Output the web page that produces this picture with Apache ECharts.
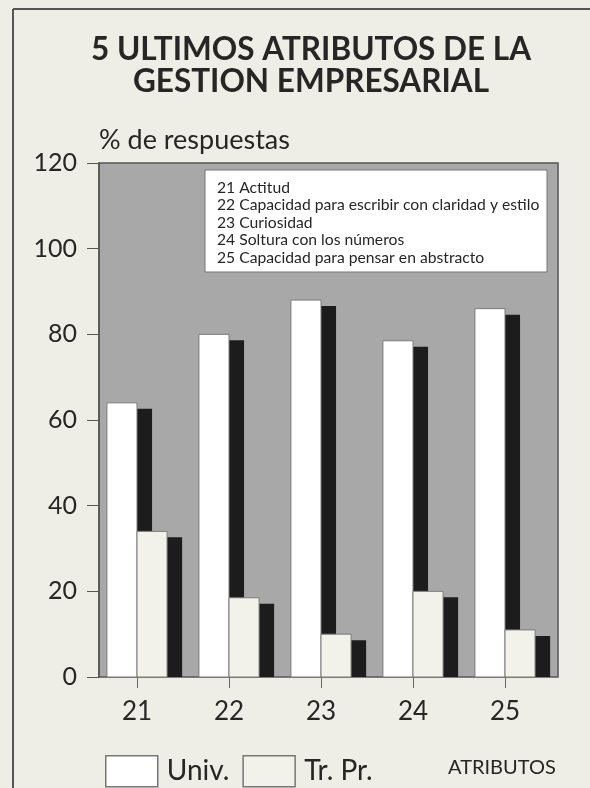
<!DOCTYPE html>
<html>
<head>
<meta charset="utf-8">
<script src="https://cdn.jsdelivr.net/npm/echarts@6/dist/echarts.min.js"></script>
<style>
html,body{margin:0;padding:0;background:#eeede6;}
#c{width:590px;height:788px;}
</style>
</head>
<body>
<div id="c"></div>
<script>
const categories = ['21', '22', '23', '24', '25'];
const univValues = [64, 80, 88, 78.5, 86];
const trprValues = [34, 18.5, 10, 20, 11];
const seriesNames = ['Univ.', 'Tr. Pr.'];
const noteLines = [
  '21 Actitud',
  '22 Capacidad para escribir con claridad y estilo',
  '23 Curiosidad',
  '24 Soltura con los números',
  '25 Capacidad para pensar en abstracto'
];
const titleLines = ['5 ULTIMOS ATRIBUTOS DE LA', 'GESTION EMPRESARIAL'];

const FONT = 'Lato, "Open Sans", sans-serif';
const TXT = '#262626';

function makeRender(side, fill) {
  return function (params, api) {
    const i = api.value(0), v = api.value(1);
    const top = api.coord([i, v]);
    const base = api.coord([i, 0]);
    const band = api.size([1, 0])[0];
    const bw = band * 0.327;
    const x0 = side === 0 ? top[0] - bw : top[0];
    return {
      type: 'group',
      children: [
        { type: 'rect', shape: { x: x0 + bw / 2, y: top[1] + 6, width: bw, height: base[1] - top[1] - 6 },
          style: { fill: '#1c1c1c' } },
        { type: 'rect', shape: { x: x0, y: top[1], width: bw, height: base[1] - top[1] },
          style: { fill: fill, stroke: '#7a7a7a', lineWidth: 1 } }
      ]
    };
  };
}

const chart = echarts.init(document.getElementById('c'));
chart.setOption({
  backgroundColor: '#eeede6',
  animation: false,
  title: {
    text: titleLines.join('\n'),
    left: 306, textAlign: 'center', top: 29,
    textStyle: { fontFamily: FONT, fontSize: 31.5, fontWeight: 'bold', color: TXT, lineHeight: 32 }
  },
  grid: [
    { left: 99, top: 163, width: 459, height: 514, show: true, backgroundColor: '#a8a8a8', borderColor: '#555', borderWidth: 1.5 },
    { left: 91, top: 163, width: 460, height: 514 }
  ],
  xAxis: [
    { gridIndex: 0, type: 'category', data: categories, show: false },
    { gridIndex: 1, type: 'category', data: categories,
      axisLine: { show: false },
      axisTick: { show: true, alignWithLabel: true, length: 11, lineStyle: { color: '#666', width: 1 } },
      axisLabel: { fontFamily: FONT, fontSize: 26, color: TXT, margin: 22 } }
  ],
  yAxis: [
    { gridIndex: 0, type: 'value', min: 0, max: 120, interval: 20,
      name: '% de respuestas', nameLocation: 'end', nameGap: 9,
      nameTextStyle: { fontFamily: FONT, fontSize: 27, color: TXT, align: 'left' },
      axisLine: { show: true, lineStyle: { color: '#555', width: 1.5 } },
      axisTick: { show: true, length: 12, lineStyle: { color: '#555', width: 1 } },
      axisLabel: { fontFamily: FONT, fontSize: 25, color: TXT, margin: 22 },
      splitLine: { show: false } },
    { gridIndex: 1, type: 'value', min: 0, max: 120, show: false }
  ],
  legend: {
    left: 100, top: 750, icon: 'rect', itemWidth: 52, itemHeight: 31, itemGap: 13,
    textStyle: { fontFamily: FONT, fontSize: 28, color: TXT, padding: [0, 0, 0, 4] },
    data: [
      { name: seriesNames[0], itemStyle: { color: '#ffffff', borderColor: '#777', borderWidth: 1.5 } },
      { name: seriesNames[1], itemStyle: { color: '#f2f1ea', borderColor: '#777', borderWidth: 1.5 } }
    ]
  },
  graphic: [
    { type: 'line', shape: { x1: 13, y1: 9, x2: 590, y2: 9 }, style: { stroke: '#555', lineWidth: 2 } },
    { type: 'line', shape: { x1: 13, y1: 9, x2: 13, y2: 788 }, style: { stroke: '#555', lineWidth: 2 } },
    { type: 'rect', shape: { x: 205, y: 170, width: 342, height: 102 }, style: { fill: '#ffffff', stroke: '#777', lineWidth: 1 }, z: 10 },
    { type: 'text', x: 217, y: 179, z: 11,
      style: { text: noteLines.join('\n'), fontFamily: FONT, fontSize: 15.7, lineHeight: 17.5, fill: TXT } },
    { type: 'text', x: 448, y: 758, style: { text: 'ATRIBUTOS', fontFamily: FONT, fontSize: 20, fill: TXT } }
  ],
  series: [
    { name: seriesNames[0], type: 'custom', xAxisIndex: 1, yAxisIndex: 1,
      itemStyle: { color: '#ffffff' },
      renderItem: makeRender(0, '#ffffff'),
      data: univValues.map((v, i) => [i, v]) },
    { name: seriesNames[1], type: 'custom', xAxisIndex: 1, yAxisIndex: 1,
      itemStyle: { color: '#f2f1ea' },
      renderItem: makeRender(1, '#f2f1ea'),
      data: trprValues.map((v, i) => [i, v]) }
  ]
});
</script>
</body>
</html>
